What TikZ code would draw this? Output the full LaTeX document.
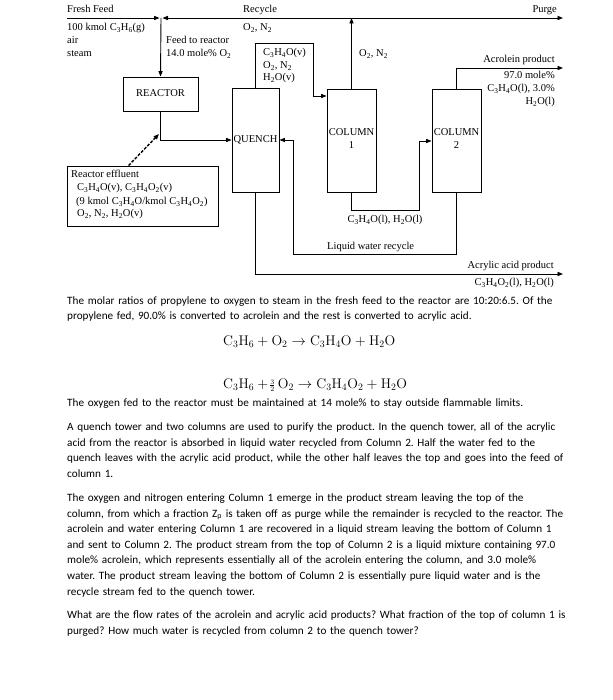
\documentclass[tikz,border=0pt]{standalone}
\usepackage{fontspec}
\newfontfamily\diagfont{Liberation Serif}
\newfontfamily\bodyfont{Carlito}
\usetikzlibrary{arrows.meta}
\newcommand\sbs[1]{\textsubscript{#1}}
\frenchspacing
\begin{document}
\begin{tikzpicture}[x=1pt,y=-1pt,
  tip/.tip={Triangle[length=5.5pt,width=4.2pt]},
  flow/.style={line width=0.9pt, -tip},
  unit/.style={draw, line width=0.9pt, inner sep=0pt},
  lbl/.style={font=\diagfont\fontsize{10.5}{12}\selectfont, inner sep=0pt},
  para/.style={font=\bodyfont\fontsize{11.2}{15.6}\selectfont, inner sep=0pt, anchor=base west, align=left, text width=560pt},
  eqn/.style={font=\fontsize{14}{16}\selectfont, inner sep=0pt, anchor=base west},
]
\useasboundingbox (0,0) rectangle (612,700);

% units
\node[unit, minimum width=75pt, minimum height=34pt] (reactor) at (160.5,94) {};
\node[lbl] (reactorlbl) at (160.5,93) {REACTOR};
\node[unit, minimum width=47pt, minimum height=104pt] (quench) at (255.5,140) {};
\node[lbl] (quenchlbl) at (255.5,139.5) {QUENCH};
\node[unit, minimum width=49pt, minimum height=103pt] (col1) at (351.5,140.5) {};
\node[lbl, anchor=base] (col1a) at (351.5,135.5) {COLUMN};
\node[lbl, anchor=base] (col1b) at (351.5,148.5) {1};
\node[unit, minimum width=49pt, minimum height=103pt] (col2) at (456.5,140.5) {};
\node[lbl, anchor=base] (col2a) at (456.5,135.5) {COLUMN};
\node[lbl, anchor=base] (col2b) at (456.5,148.5) {2};
\node[unit, minimum width=151pt, minimum height=60pt] (eff) at (142.5,196) {};

% coordinates
\coordinate (ff) at (67,18);
\coordinate (jn) at (161,18);
\coordinate (pg) at (563,18);
\coordinate (acr) at (563,68);
\coordinate (aa) at (563,274);
\coordinate (effpt) at (159,134);

% streams
\draw[flow, shorten >=1.5pt] (ff) -- (jn);
\draw[line width=0.9pt, tip-tip, shorten <=1.5pt] (jn) -- (pg);
\draw[flow] (jn) -- (reactor.north);
\draw[flow] (reactor.south) |- (quench.west);
\draw[line width=1.4pt, dash pattern=on 3pt off 1.5pt, -tip] ([xshift=62pt]eff.north west) -- (effpt);
\draw[flow] (quench.north) |- (313,43) |- (col1.north west |- 0,96);
\draw[flow] (col1.north) -- (col1.north |- jn);
\draw[flow] (col1.south) |- (419,210) |- (col2.west |- 0,141);
\draw[flow] (col2.north) |- (acr);
\draw[flow] (col2.south) |- (293,254) |- (quench.east);
\draw[flow] (quench.south) |- (aa);

% labels
\node[lbl, anchor=base west] (l1) at (67,13) {Fresh Feed};
\node[lbl, anchor=base west] (l2) at (67,30.5) {100 kmol C\sbs{3}H\sbs{6}(g)};
\node[lbl, anchor=base west] (l3) at (67,43.5) {air};
\node[lbl, anchor=base west] (l4) at (67,56.5) {steam};
\node[lbl, anchor=base west] (l5) at (243,13) {Recycle};
\node[lbl, anchor=base west] (l6) at (243,30.5) {O\sbs{2}, N\sbs{2}};
\node[lbl, anchor=base west] (l7) at (166,44) {Feed to reactor};
\node[lbl, anchor=base west] (l8) at (166,56.5) {14.0 mole\% O\sbs{2}};
\node[lbl, anchor=base west] (l9) at (263,55.5) {C\sbs{3}H\sbs{4}O(v)};
\node[lbl, anchor=base west] (l10) at (263,68.5) {O\sbs{2}, N\sbs{2}};
\node[lbl, anchor=base west] (l11) at (263,80.5) {H\sbs{2}O(v)};
\node[lbl, anchor=base west] (l12) at (359,56.5) {O\sbs{2}, N\sbs{2}};
\node[lbl, anchor=base east] (l13) at (557,13) {Purge};
\node[lbl, anchor=base east] (l14) at (555,62.5) {Acrolein product};
\node[lbl, anchor=base east] (l15) at (555,78.5) {97.0 mole\%};
\node[lbl, anchor=base east] (l16) at (555,91.5) {C\sbs{3}H\sbs{4}O(l), 3.0\%};
\node[lbl, anchor=base east] (l17) at (555,104.5) {H\sbs{2}O(l)};
\node[lbl, anchor=base] (l18) at (385,222.5) {C\sbs{3}H\sbs{4}O(l), H\sbs{2}O(l)};
\node[lbl, anchor=base west] (l19) at (327,249.5) {Liquid water recycle};
\node[lbl, anchor=base east] (l20) at (554,268.5) {Acrylic acid product};
\node[lbl, anchor=base east] (l21) at (554,285.5) {C\sbs{3}H\sbs{4}O\sbs{2}(l), H\sbs{2}O(l)};
\node[lbl, anchor=base west] (l22) at (71,177.5) {Reactor effluent};
\node[lbl, anchor=base west] (l23) at (77,191) {C\sbs{3}H\sbs{4}O(v), C\sbs{3}H\sbs{4}O\sbs{2}(v)};
\node[lbl, anchor=base west] (l24) at (76,204.5) {(9 kmol C\sbs{3}H\sbs{4}O/kmol C\sbs{3}H\sbs{4}O\sbs{2})};
\node[lbl, anchor=base west] (l25) at (77,216.5) {O\sbs{2}, N\sbs{2}, H\sbs{2}O(v)};

% text
\node[para] (p1) at (67,304.2) {The molar ratios of propylene to oxygen to steam in the fresh feed to the reactor are 10:20:6.5. Of the\\
propylene fed, 90.0\% is converted to acrolein and the rest is converted to acrylic acid.};
\node[eqn] (eq1) at (223,345) {$\mathrm{C_3H_6 + O_2 \rightarrow C_3H_4O + H_2O}$};
\node[eqn] (eq2) at (223,388) {$\mathrm{C_3H_6} +\!{\scriptstyle\frac{3}{2}}\,\mathrm{O_2 \rightarrow C_3H_4O_2 + H_2O}$};
\node[para] (p2) at (67,406.5) {The oxygen fed to the reactor must be maintained at 14 mole\% to stay outside flammable limits.};
\node[para] (p3) at (67,430.5) {A quench tower and two columns are used to purify the product. In the quench tower, all of the acrylic\\
acid from the reactor is absorbed in liquid water recycled from Column 2. Half the water fed to the\\
quench leaves with the acrylic acid product, while the other half leaves the top and goes into the feed of\\
column 1.};
\node[para] (p4) at (67,501.5) {The oxygen and nitrogen entering Column 1 emerge in the product stream leaving the top of the\\
column, from which a fraction Z\textsubscript{p} is taken off as purge while the remainder is recycled to the reactor. The\\
acrolein and water entering Column 1 are recovered in a liquid stream leaving the bottom of Column 1\\
and sent to Column 2. The product stream from the top of Column 2 is a liquid mixture containing 97.0\\
mole\% acrolein, which represents essentially all of the acrolein entering the column, and 3.0 mole\%\\
water. The product stream leaving the bottom of Column 2 is essentially pure liquid water and is the\\
recycle stream fed to the quench tower.};
\node[para] (p5) at (67,618.5) {What are the flow rates of the acrolein and acrylic acid products? What fraction of the top of column 1 is\\
purged? How much water is recycled from column 2 to the quench tower?};
\end{tikzpicture}
\end{document}
